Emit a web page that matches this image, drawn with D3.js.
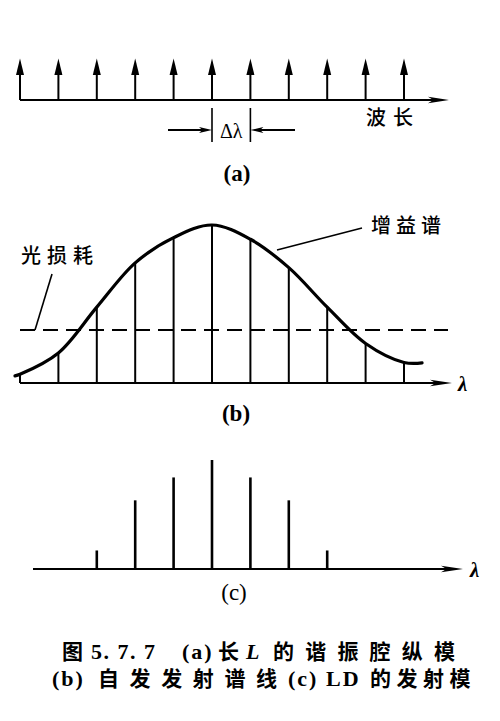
<!DOCTYPE html>
<html><head><meta charset="utf-8">
<script src="https://cdn.jsdelivr.net/npm/d3@7/dist/d3.min.js"></script>
<style>body{margin:0;background:#fff}svg{display:block}</style>
</head><body>
<script>
// ---- data ----
const modes = [0,1,2,3,4,5,6,7,8,9,10];                 // longitudinal mode indices (a)
const gainPos = [-0.13,0,1,2,3,4,5,6,7,8,9,10,10.47];     // gain curve sample positions (mode units)
const gainVal = [0.045,0.055,0.19,0.48,0.76,0.92,1.0,0.91,0.73,0.48,0.25,0.13,0.127];
const lossLevel = 0.335;                                  // optical loss level
const lasingModes = [2,3,4,5,6,7,8];                      // emitted modes (c)
const lasingVal = [0.17,0.63,0.84,1.0,0.84,0.63,0.17];
const axisLabelA = "波长";
const deltaLabel = "Δλ";
const lambdaLabel = "λ";
const lossLabel = "光损耗";
const gainLabel = "增益谱";
const panelLabels = ["(a)","(b)","(c)"];
const captionLine1 = [["图",62],["5. 7. 7",91],["(a)",182],["长",218],["L",246],["的谐振腔纵模",273]];
const captionLine2 = [["(b)",52],["自发发射谱线",98],["(c)",288],["LD",326],["的发射模",370]];

const W = 500, H = 721;
const svg = d3.select("body").append("svg").attr("width", W).attr("height", H);
const CJK = "'Noto Sans CJK SC', sans-serif";
const SERIF = "'Liberation Serif', 'Noto Sans CJK SC', serif";

const x = d3.scaleLinear().domain([0,10]).range([20,404]);

function hArrow(g, x0, x1, y, w, len, half) {
  g.append("line").attr("x1", x0).attr("x2", x1 - Math.sign(x1-x0)*len*0.5).attr("y1", y).attr("y2", y)
    .attr("stroke", "#000").attr("stroke-width", w);
  const s = Math.sign(x1 - x0);
  g.append("path").attr("d", `M${x1},${y} L${x1 - s*len},${y-half} L${x1 - s*len*0.75},${y} L${x1 - s*len},${y+half} Z`)
    .attr("fill", "#000");
}

// ---- panel (a) ----
const ga = svg.append("g");
const yA0 = 100;
hArrow(ga, x(0), 449, yA0, 2, 21, 3.2);
modes.forEach(m => {
  const cx = x(m);
  ga.append("line").attr("x1", cx).attr("x2", cx).attr("y1", yA0).attr("y2", 70)
    .attr("stroke", "#000").attr("stroke-width", 2);
  ga.append("path").attr("d", `M${cx},58.5 L${cx-4},75 L${cx+4},75 Z`).attr("fill", "#000");
});
// delta lambda marker
[5,6].forEach(m => {
  ga.append("line").attr("x1", x(m)).attr("x2", x(m)).attr("y1", 108).attr("y2", 142)
    .attr("stroke", "#000").attr("stroke-width", 1.6);
});
hArrow(ga, 168, x(5), 130, 1.8, 13, 3);
hArrow(ga, 295, x(6), 130, 1.8, 13, 3);
ga.append("text").attr("x", (x(5)+x(6))/2).attr("y", 137.5).attr("text-anchor", "middle")
  .attr("font-family", SERIF).attr("font-size", 20).text(deltaLabel);
ga.append("text").attr("x", 366).attr("y", 125).attr("font-family", CJK).attr("font-size", 20)
  .attr("letter-spacing", 7).attr("font-weight", 500).text(axisLabelA);
ga.append("text").attr("x", 237).attr("y", 181).attr("text-anchor", "middle")
  .attr("font-family", SERIF).attr("font-weight", "bold").attr("font-size", 23).text(panelLabels[0]);

// ---- panel (b) ----
const gb = svg.append("g");
const yB = d3.scaleLinear().domain([0,1]).range([383,225]);
hArrow(gb, 20, 452, yB(0), 2, 22, 3.2);
gb.append("text").attr("x", 458).attr("y", 391).attr("font-family", SERIF).attr("font-style", "italic")
  .attr("font-weight", "bold").attr("font-size", 21).text(lambdaLabel);
modes.forEach(m => {
  const v = gainVal[gainPos.indexOf(m)];
  gb.append("line").attr("x1", x(m)).attr("x2", x(m)).attr("y1", yB(0)).attr("y2", yB(v))
    .attr("stroke", "#000").attr("stroke-width", 2);
});
const gainLine = d3.line().x(d => x(d[0])).y(d => yB(d[1])).curve(d3.curveCatmullRom.alpha(0.5));
gb.append("path").attr("d", gainLine(gainPos.map((p,i) => [p, gainVal[i]])))
  .attr("fill", "none").attr("stroke", "#000").attr("stroke-width", 3.2).attr("stroke-linecap", "round");
gb.append("line").attr("x1", 20).attr("x2", 448).attr("y1", yB(lossLevel)).attr("y2", yB(lossLevel))
  .attr("stroke", "#000").attr("stroke-width", 2).attr("stroke-dasharray", "15,8");
// leaders
gb.append("line").attr("x1", 35).attr("y1", yB(lossLevel)).attr("x2", 52).attr("y2", 274)
  .attr("stroke", "#000").attr("stroke-width", 1.6);
gb.append("line").attr("x1", 277).attr("y1", 250).attr("x2", 362).attr("y2", 228)
  .attr("stroke", "#000").attr("stroke-width", 1.6);
gb.append("text").attr("x", 21).attr("y", 263).attr("font-family", CJK).attr("font-size", 20)
  .attr("letter-spacing", 6).attr("font-weight", 500).text(lossLabel);
gb.append("text").attr("x", 371).attr("y", 233).attr("font-family", CJK).attr("font-size", 20)
  .attr("letter-spacing", 5).attr("font-weight", 500).text(gainLabel);
gb.append("text").attr("x", 236).attr("y", 421).attr("text-anchor", "middle")
  .attr("font-family", SERIF).attr("font-weight", "bold").attr("font-size", 23).text(panelLabels[1]);

// ---- panel (c) ----
const gc = svg.append("g");
const yC = d3.scaleLinear().domain([0,1]).range([569,460]);
hArrow(gc, 33, 463, yC(0), 2.2, 22, 3.2);
gc.append("text").attr("x", 470).attr("y", 577).attr("font-family", SERIF).attr("font-style", "italic")
  .attr("font-weight", "bold").attr("font-size", 21).text(lambdaLabel);
lasingModes.forEach((m,i) => {
  gc.append("line").attr("x1", x(m)).attr("x2", x(m)).attr("y1", yC(0)).attr("y2", yC(lasingVal[i]))
    .attr("stroke", "#000").attr("stroke-width", 2.6);
});
gc.append("text").attr("x", 234).attr("y", 600).attr("text-anchor", "middle")
  .attr("font-family", SERIF).attr("font-size", 23).text(panelLabels[2]);

// ---- caption ----
function caption(parts, y, cjkSpacing) {
  parts.forEach(([t, px], i) => {
    const isCJK = /[\u4e00-\u9fff]/.test(t);
    const last = i === parts.length - 1;
    const el = svg.append("text").attr("x", px).attr("y", y).attr("font-weight", "bold")
      .attr("font-size", isCJK ? 21 : 22)
      .attr("font-family", isCJK ? CJK : SERIF);
    if (isCJK && t.length > 1) {
      const sp = (typeof cjkSpacing === "function") ? cjkSpacing(t) : cjkSpacing;
      // position each glyph so no trailing spacing spills past the last glyph
      [...t].forEach((ch, k) => {
        el.append("tspan").attr("x", px + k * (21 + sp)).text(ch);
      });
    } else {
      el.text(t);
      if (t === "L") el.attr("font-style", "italic");
      else if (t.startsWith("5")) el.attr("letter-spacing", 1.5);
      else if (!isCJK) el.attr("letter-spacing", 2);
    }
  });
}
caption(captionLine1, 659, 11.2);
caption(captionLine2, 686, t => t.length === 4 ? 5.5 : 10.6);
</script>
</body></html>
